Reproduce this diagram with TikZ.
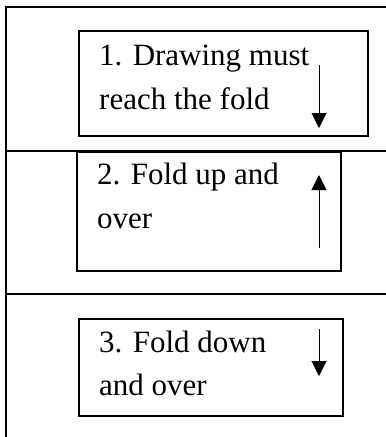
\documentclass[tikz,border=0pt]{standalone}
\usepackage{fontspec}
\setmainfont{Liberation Serif}
\usetikzlibrary{arrows.meta,positioning}

\begin{document}
\begin{tikzpicture}[x=1pt,y=-1pt,
  strip/.style={line width=1.3pt},
  panel/.style={draw,line width=1.2pt,inner sep=0pt},
  caption/.style={anchor=base west,align=left,inner sep=0pt,font=\fontsize{31}{36.5}\selectfont},
  fold/.style={line width=1pt,-{Triangle[length=15pt,width=15pt]}}]
\useasboundingbox (0,0) rectangle (386,437);

% the three strips of the sheet
\coordinate (s0) at (6,7);
\draw[strip] (386,7) -- (s0) -- (6,437);
\draw[strip] (6,151) -- (386,151);
\draw[strip] (6,294) -- (386,294);

% step 1
\node(p1)[panel,minimum width=289pt,minimum height=105pt] at (223.5,83.5) {};
\node(t1)[caption] at (99,109) {1. Drawing must\\[7pt]reach the fold};
\coordinate (a1) at (319,65);
\coordinate (b1) at (319,128);
\draw [fold] (a1) -- (b1);

% step 2
\node(p2)[panel,minimum width=264pt,minimum height=119pt] at (209,211.5) {};
\node(t2)[caption] at (97,228) {2. Fold up and\\[7pt]over};
\coordinate (a2) at (319,248);
\coordinate (b2) at (319,175);
\draw [fold] (a2) -- (b2);

% step 3
\node(p3)[panel,minimum width=264pt,minimum height=97pt] at (211,367.5) {};
\node(t3)[caption] at (99,395) {3. Fold down\\[6pt]and over};
\coordinate (a3) at (319,329);
\coordinate (b3) at (319,376);
\draw [fold] (a3) -- (b3);
\end{tikzpicture}
\end{document}
